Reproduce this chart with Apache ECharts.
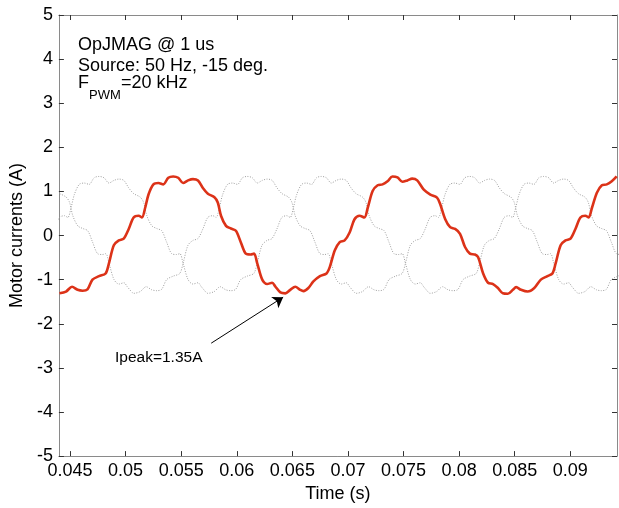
<!DOCTYPE html>
<html>
<head>
<meta charset="utf-8">
<script src="https://cdn.jsdelivr.net/npm/echarts@6/dist/echarts.min.js"></script>
<style>html,body{margin:0;padding:0;background:#fff;}#c{width:619px;height:508px;}</style>
</head>
<body>
<div id="c"></div>
<script>
// ---- data: [time (s), current (A)] ----
var redPhase = [
[0.04405,-1.31],[0.04464,-1.27],[0.04518,-1.16],[0.04568,-1.23],[0.04613,-1.25],[0.04657,-1.22],
[0.04702,-1.00],[0.04761,-0.92],[0.04820,-0.86],[0.04850,-0.63],[0.04894,-0.22],[0.04939,-0.11],
[0.04983,-0.07],[0.05028,0.15],[0.05072,0.41],[0.05117,0.45],[0.05147,0.41],[0.05176,0.63],
[0.05206,0.93],[0.05250,1.16],[0.05295,1.19],[0.05339,1.16],[0.05384,1.31],[0.05428,1.34],
[0.05473,1.31],[0.05517,1.19],[0.05562,1.25],[0.05606,1.28],[0.05651,1.25],[0.05695,1.08],
[0.05740,0.95],[0.05799,0.87],[0.05829,0.75],[0.05858,0.45],[0.05903,0.22],[0.05947,0.16],
[0.05992,0.11],[0.06036,-0.15],[0.06081,-0.41],[0.06125,-0.43],[0.06155,-0.41],[0.06184,-0.63],
[0.06229,-1.00],[0.06273,-1.10],[0.06318,-1.07],[0.06348,-1.16],[0.06392,-1.29],[0.06437,-1.31],
[0.06481,-1.23],[0.06526,-1.16],[0.06570,-1.23],[0.06600,-1.26],[0.06644,-1.19],[0.06689,-1.04],
[0.06748,-0.92],[0.06807,-0.86],[0.06837,-0.71],[0.06881,-0.34],[0.06926,-0.15],[0.06970,-0.11],
[0.07015,0.07],[0.07059,0.37],[0.07104,0.45],[0.07148,0.41],[0.07178,0.63],[0.07222,1.01],
[0.07267,1.14],[0.07311,1.16],[0.07356,1.23],[0.07400,1.34],[0.07445,1.32],[0.07489,1.22],
[0.07534,1.25],[0.07578,1.29],[0.07623,1.25],[0.07682,1.04],[0.07741,0.93],[0.07801,0.86],
[0.07830,0.71],[0.07875,0.37],[0.07919,0.19],[0.07964,0.15],[0.08008,0.04],[0.08053,-0.26],
[0.08097,-0.41],[0.08142,-0.43],[0.08171,-0.49],[0.08216,-0.86],[0.08260,-1.07],[0.08305,-1.10],
[0.08349,-1.19],[0.08394,-1.31],[0.08438,-1.32],[0.08483,-1.23],[0.08513,-1.17],[0.08557,-1.23],
[0.08616,-1.27],[0.08676,-1.19],[0.08735,-1.00],[0.08794,-0.92],[0.08839,-0.86],[0.08868,-0.63],
[0.08913,-0.22],[0.08957,-0.11],[0.09002,-0.07],[0.09046,0.15],[0.09091,0.41],[0.09135,0.45],
[0.09165,0.41],[0.09195,0.63],[0.09239,0.97],[0.09284,1.14],[0.09328,1.16],[0.09373,1.23],
[0.09417,1.34]
];
var grayPhaseB = [
[0.04407,0.95],[0.04466,0.87],[0.04496,0.75],[0.04525,0.45],[0.04570,0.22],[0.04614,0.16],
[0.04659,0.11],[0.04703,-0.15],[0.04748,-0.41],[0.04792,-0.43],[0.04822,-0.41],[0.04851,-0.63],
[0.04896,-1.00],[0.04940,-1.10],[0.04985,-1.07],[0.05015,-1.16],[0.05059,-1.29],
[0.05072,-1.31],[0.05131,-1.27],[0.05185,-1.16],[0.05235,-1.23],[0.05280,-1.25],[0.05324,-1.22],
[0.05369,-1.00],[0.05428,-0.92],[0.05487,-0.86],[0.05517,-0.63],[0.05561,-0.22],[0.05606,-0.11],
[0.05650,-0.07],[0.05695,0.15],[0.05739,0.41],[0.05784,0.45],[0.05814,0.41],[0.05843,0.63],
[0.05873,0.93],[0.05917,1.16],[0.05962,1.19],[0.06006,1.16],[0.06051,1.31],[0.06095,1.34],
[0.06140,1.31],[0.06184,1.19],[0.06229,1.25],[0.06273,1.28],[0.06318,1.25],[0.06362,1.08],
[0.06407,0.95],[0.06466,0.87],[0.06496,0.75],[0.06525,0.45],[0.06570,0.22],[0.06614,0.16],
[0.06659,0.11],[0.06703,-0.15],[0.06748,-0.41],[0.06792,-0.43],[0.06822,-0.41],[0.06851,-0.63],
[0.06896,-1.00],[0.06940,-1.10],[0.06985,-1.07],[0.07015,-1.16],[0.07059,-1.29],
[0.07072,-1.31],[0.07131,-1.27],[0.07185,-1.16],[0.07235,-1.23],[0.07280,-1.25],[0.07324,-1.22],
[0.07369,-1.00],[0.07428,-0.92],[0.07487,-0.86],[0.07517,-0.63],[0.07561,-0.22],[0.07606,-0.11],
[0.07650,-0.07],[0.07695,0.15],[0.07739,0.41],[0.07784,0.45],[0.07814,0.41],[0.07843,0.63],
[0.07873,0.93],[0.07917,1.16],[0.07962,1.19],[0.08006,1.16],[0.08051,1.31],[0.08095,1.34],
[0.08140,1.31],[0.08184,1.19],[0.08229,1.25],[0.08273,1.28],[0.08318,1.25],[0.08362,1.08],
[0.08407,0.95],[0.08466,0.87],[0.08496,0.75],[0.08525,0.45],[0.08570,0.22],[0.08614,0.16],
[0.08659,0.11],[0.08703,-0.15],[0.08748,-0.41],[0.08792,-0.43],[0.08822,-0.41],[0.08851,-0.63],
[0.08896,-1.00],[0.08940,-1.10],[0.08985,-1.07],[0.09015,-1.16],[0.09059,-1.29],
[0.09072,-1.31],[0.09131,-1.27],[0.09185,-1.16],[0.09235,-1.23],[0.09280,-1.25],[0.09324,-1.22],
[0.09369,-1.00],[0.09428,-0.92],[0.09487,-0.86]
];
var grayPhaseC = [
[0.04361,0.15],[0.04405,0.41],[0.04450,0.45],[0.04480,0.41],[0.04509,0.63],[0.04539,0.93],
[0.04583,1.16],[0.04628,1.19],[0.04672,1.16],[0.04717,1.31],[0.04761,1.34],[0.04806,1.31],
[0.04850,1.19],[0.04895,1.25],[0.04939,1.28],[0.04984,1.25],[0.05028,1.08],[0.05073,0.95],
[0.05132,0.87],[0.05162,0.75],[0.05191,0.45],[0.05236,0.22],[0.05280,0.16],[0.05325,0.11],
[0.05369,-0.15],[0.05414,-0.41],[0.05458,-0.43],[0.05488,-0.41],[0.05517,-0.63],[0.05562,-1.00],
[0.05606,-1.10],[0.05651,-1.07],[0.05681,-1.16],[0.05725,-1.29],
[0.05738,-1.31],[0.05797,-1.27],[0.05851,-1.16],[0.05901,-1.23],[0.05946,-1.25],[0.05990,-1.22],
[0.06035,-1.00],[0.06094,-0.92],[0.06153,-0.86],[0.06183,-0.63],[0.06227,-0.22],[0.06272,-0.11],
[0.06316,-0.07],[0.06361,0.15],[0.06405,0.41],[0.06450,0.45],[0.06480,0.41],[0.06509,0.63],
[0.06539,0.93],[0.06583,1.16],[0.06628,1.19],[0.06672,1.16],[0.06717,1.31],[0.06761,1.34],
[0.06806,1.31],[0.06850,1.19],[0.06895,1.25],[0.06939,1.28],[0.06984,1.25],[0.07028,1.08],
[0.07073,0.95],[0.07132,0.87],[0.07162,0.75],[0.07191,0.45],[0.07236,0.22],[0.07280,0.16],
[0.07325,0.11],[0.07369,-0.15],[0.07414,-0.41],[0.07458,-0.43],[0.07488,-0.41],[0.07517,-0.63],
[0.07562,-1.00],[0.07606,-1.10],[0.07651,-1.07],[0.07681,-1.16],[0.07725,-1.29],
[0.07738,-1.31],[0.07797,-1.27],[0.07851,-1.16],[0.07901,-1.23],[0.07946,-1.25],[0.07990,-1.22],
[0.08035,-1.00],[0.08094,-0.92],[0.08153,-0.86],[0.08183,-0.63],[0.08227,-0.22],[0.08272,-0.11],
[0.08316,-0.07],[0.08361,0.15],[0.08405,0.41],[0.08450,0.45],[0.08480,0.41],[0.08509,0.63],
[0.08539,0.93],[0.08583,1.16],[0.08628,1.19],[0.08672,1.16],[0.08717,1.31],[0.08761,1.34],
[0.08806,1.31],[0.08850,1.19],[0.08895,1.25],[0.08939,1.28],[0.08984,1.25],[0.09028,1.08],
[0.09073,0.95],[0.09132,0.87],[0.09162,0.75],[0.09191,0.45],[0.09236,0.22],[0.09280,0.16],
[0.09325,0.11],[0.09369,-0.15],[0.09414,-0.41],[0.09458,-0.43]
];
var xTicks = [0.045, 0.05, 0.055, 0.06, 0.065, 0.07, 0.075, 0.08, 0.085, 0.09];
var xRange = [0.044, 0.0942];
var yRange = [-5, 5];
var yStep = 1;
var peakArrow = [[0.0577, -2.44], [0.06417, -1.397]];

var FONT = '"Liberation Sans", Arial, sans-serif';
var axisLineStyle = { color: '#8a8a8a', width: 1 };
var tickStyle = { color: '#333', width: 1 };

var chart = echarts.init(document.getElementById('c'), null, { renderer: 'canvas' });
var option = {
  animation: false,
  backgroundColor: '#fff',
  grid: { left: 53, right: 2, top: 15, bottom: 47 },
  xAxis: [
    {
      type: 'value', min: xRange[0], max: xRange[1], position: 'bottom',
      name: 'Time (s)', nameLocation: 'middle', nameGap: 26,
      nameTextStyle: { fontFamily: FONT, fontSize: 18, color: '#000' },
      axisLine: { show: true, onZero: false, lineStyle: axisLineStyle },
      axisTick: { show: true, inside: true, length: 5, lineStyle: tickStyle, customValues: xTicks },
      axisLabel: { show: true, margin: 6, fontFamily: FONT, fontSize: 18, color: '#000',
        customValues: xTicks, showMinLabel: true, showMaxLabel: true,
        formatter: function (v) { return String(v); } },
      splitLine: { show: false }
    },
    {
      type: 'value', min: xRange[0], max: xRange[1], position: 'top',
      axisLine: { show: true, onZero: false, lineStyle: axisLineStyle },
      axisTick: { show: true, inside: true, length: 5, lineStyle: tickStyle, customValues: xTicks },
      axisLabel: { show: false },
      splitLine: { show: false }
    }
  ],
  yAxis: [
    {
      type: 'value', min: yRange[0], max: yRange[1], interval: yStep, position: 'left',
      name: 'Motor currents (A)', nameLocation: 'middle', nameGap: 28,
      nameTextStyle: { fontFamily: FONT, fontSize: 18, color: '#000' },
      axisLine: { show: true, onZero: false, lineStyle: axisLineStyle },
      axisTick: { show: true, inside: true, length: 5, lineStyle: tickStyle },
      axisLabel: { show: true, margin: 6, fontFamily: FONT, fontSize: 18, color: '#000' },
      splitLine: { show: false }
    },
    {
      type: 'value', min: yRange[0], max: yRange[1], interval: yStep, position: 'right',
      axisLine: { show: true, onZero: false, lineStyle: axisLineStyle },
      axisTick: { show: true, inside: true, length: 5, lineStyle: tickStyle },
      axisLabel: { show: false },
      splitLine: { show: false }
    }
  ],
  series: [
    {
      name: 'Phase B', type: 'line', data: grayPhaseB, showSymbol: false, smooth: 0.3,
      lineStyle: { color: '#a0a0a0', width: 1, type: [1, 1.5] }, z: 2, silent: true
    },
    {
      name: 'Phase C', type: 'line', data: grayPhaseC, showSymbol: false, smooth: 0.3,
      lineStyle: { color: '#a0a0a0', width: 1, type: [1, 1.5] }, z: 2, silent: true
    },
    {
      name: 'Phase A', type: 'line', data: redPhase, showSymbol: false, smooth: 0.3,
      lineStyle: { color: '#dc3218', width: 2.6 }, z: 3, silent: true,
      markLine: {
        silent: true, symbol: ['none', 'arrow'], symbolSize: 10,
        lineStyle: { color: '#000', width: 1, type: 'solid' },
        label: { show: false },
        data: [[{ coord: peakArrow[0] }, { coord: peakArrow[1] }]]
      }
    }
  ],
  graphic: [
    { type: 'text', x: 78, y: 44.7, style: { text: 'OpJMAG @ 1 us', font: '18px ' + FONT, fill: '#000', verticalAlign: 'middle' } },
    { type: 'text', x: 78, y: 66, style: { text: 'Source: 50 Hz, -15 deg.', font: '18px ' + FONT, fill: '#000', verticalAlign: 'middle' } },
    { type: 'text', x: 78, y: 83.5, style: { text: 'F', font: '18px ' + FONT, fill: '#000', verticalAlign: 'middle' } },
    { type: 'text', x: 89, y: 95, style: { text: 'PWM', font: '13px ' + FONT, fill: '#000', verticalAlign: 'middle' } },
    { type: 'text', x: 121, y: 83.5, style: { text: '=20 kHz', font: '18px ' + FONT, fill: '#000', verticalAlign: 'middle' } },
    { type: 'text', x: 115, y: 358, style: { text: 'Ipeak=1.35A', font: '15.5px ' + FONT, fill: '#000', verticalAlign: 'middle' } }
  ]
};
chart.setOption(option);
</script>
</body>
</html>
